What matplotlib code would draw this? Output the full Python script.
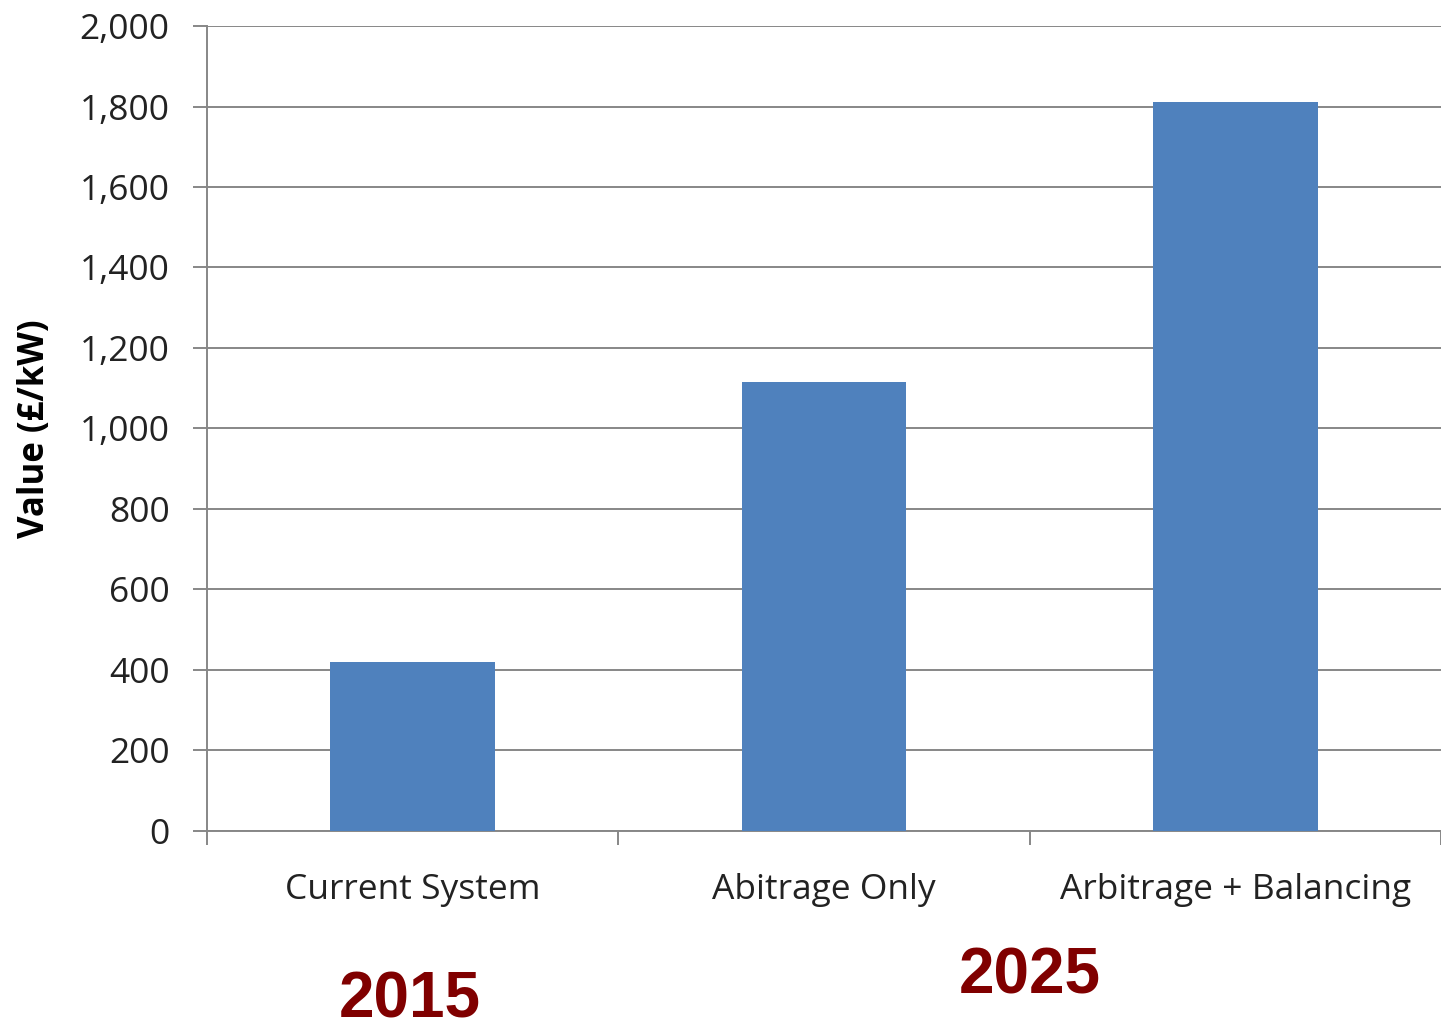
import matplotlib
matplotlib.use("Agg")
import matplotlib.pyplot as plt
from matplotlib.ticker import FuncFormatter

categories = ["Current System", "Abitrage Only", "Arbitrage + Balancing"]
values = [420, 1115, 1811]
years = ["2015", "2025"]

BAR_COLOUR = "#4F81BD"
GRID_COLOUR = "#878787"
YEAR_COLOUR = "#800000"

plt.rcParams['font.family'] = ['Open Sans', 'DejaVu Sans']

fig = plt.figure(figsize=(14.41, 10.24), dpi=100)
ax = fig.add_axes([0.1437, 0.1885, 0.8563, 0.7861])

x = list(range(len(categories)))
ax.bar(x, values, width=0.4, color=BAR_COLOUR, zorder=3)

ax.set_xlim(-0.5, 2.5)
ax.set_ylim(0, 2000)
ax.set_yticks(range(0, 2001, 200))
ax.yaxis.set_major_formatter(FuncFormatter(lambda v, p: "{:,}".format(int(v))))
ax.grid(axis='y', color=GRID_COLOUR, linewidth=1.4, zorder=0)

# category ticks sit between the groups
ax.set_xticks([-0.5, 0.5, 1.5, 2.5])
ax.set_xticklabels([])
ax.set_xticks(x, minor=True)
ax.set_xticklabels(categories, minor=True, fontsize=25.5, color="#222222")
ax.tick_params(axis='x', which='major', length=10, width=1.4, color=GRID_COLOUR)
ax.tick_params(axis='x', which='minor', length=0, pad=30)
ax.tick_params(axis='y', length=10, width=1.4, color=GRID_COLOUR, labelsize=25.5,
               labelcolor="#222222", pad=17)

for s in ['top', 'right']:
    ax.spines[s].set_visible(False)
for s in ['left', 'bottom']:
    ax.spines[s].set_color(GRID_COLOUR)
    ax.spines[s].set_linewidth(1.4)

ax.set_ylabel("Value (£/kW)", fontsize=25, fontweight='bold')
ax.yaxis.set_label_coords(-0.125, 0.5)

fig.text(410 / 1441, 1 - 1017 / 1024, years[0], ha='center', va='baseline',
         fontsize=46, fontweight='bold', color=YEAR_COLOUR, family='Liberation Sans')
fig.text(1030 / 1441, 1 - 993 / 1024, years[1], ha='center', va='baseline',
         fontsize=46, fontweight='bold', color=YEAR_COLOUR, family='Liberation Sans')

fig.savefig("out.png", dpi=100)
